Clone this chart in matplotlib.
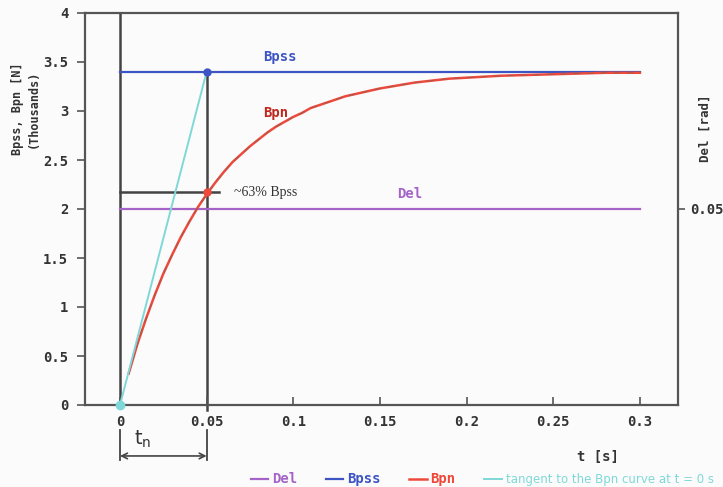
import matplotlib
matplotlib.use("Agg")
import matplotlib.pyplot as plt

# ---- data ----
t_bpn = [0.005, 0.01, 0.015, 0.02, 0.025, 0.03, 0.035, 0.04, 0.045, 0.05,
         0.055, 0.06, 0.065, 0.07, 0.075, 0.08, 0.085, 0.09, 0.095, 0.1,
         0.105, 0.11, 0.115, 0.12, 0.125, 0.13, 0.135, 0.14, 0.145, 0.15,
         0.16, 0.17, 0.18, 0.19, 0.2, 0.21, 0.22, 0.24, 0.26, 0.28, 0.3]
bpn = [0.32, 0.62, 0.88, 1.12, 1.34, 1.53, 1.71, 1.87, 2.02, 2.15,
       2.27, 2.38, 2.48, 2.56, 2.64, 2.71, 2.78, 2.84, 2.89, 2.94,
       2.98, 3.03, 3.06, 3.09, 3.12, 3.15, 3.17, 3.19, 3.21, 3.23,
       3.26, 3.29, 3.31, 3.33, 3.34, 3.35, 3.36, 3.37, 3.38, 3.39, 3.39]
t_const = [0.0, 0.3]
bpss = [3.4, 3.4]
del_val = [2.0, 2.0]
t_tan = [0.0, 0.05]
tangent = [0.0, 3.4]
tn = 0.05
bpn_63 = 2.17
x_ticks = [0, 0.05, 0.1, 0.15, 0.2, 0.25, 0.3]
x_labels = ["0", "0.05", "0.1", "0.15", "0.2", "0.25", "0.3"]
y_ticks = [0, 0.5, 1, 1.5, 2, 2.5, 3, 3.5, 4]
y_labels = ["0", "0.5", "1", "1.5", "2", "2.5", "3", "3.5", "4"]
r_ticks = [0.05]
r_labels = ["0.05"]

C_DEL = "#a563c8"
C_BPSS = "#3d55c4"
C_BPN = "#ee4a3c"
C_TAN = "#7fd8d8"
C_FRAME = "#555555"
MONO = "DejaVu Sans Mono"

fig = plt.figure(figsize=(7.23, 4.87), dpi=100)
fig.patch.set_facecolor("#fbfbfb")
ax = fig.add_axes([85/723, 82/487, 593/723, 392/487])
ax.set_facecolor("#fbfbfb")
ax.set_xlim(-0.0202, 0.322)
ax.set_ylim(0, 4)

l_del, = ax.plot(t_const, del_val, color=C_DEL, lw=1.6, label="Del")
l_bpss, = ax.plot(t_const, bpss, color=C_BPSS, lw=1.6, label="Bpss")
l_bpn, = ax.plot(t_bpn, bpn, color=C_BPN, lw=1.8, label="Bpn")
ax.plot(t_bpn, bpn, color="#7a6055", lw=0.8, ls=(0, (6, 6)), alpha=0.55)
l_tan, = ax.plot(t_tan, tangent, color=C_TAN, lw=1.4,
                 label="tangent to the Bpn curve at t = 0 s")

# construction lines
ax.plot([0, 0], [0, 4], color="#444444", lw=1.8, zorder=1)
ax.plot([tn, tn], [-0.05, 3.4], color="#444444", lw=1.8, zorder=1, clip_on=False)
ax.plot([0, 0.057], [bpn_63, bpn_63], color="#444444", lw=1.8, zorder=1)
ax.plot([0], [0], "o", color=C_TAN, ms=6, clip_on=False, zorder=5)
ax.plot([tn], [3.4], "o", color=C_BPSS, ms=5, zorder=5)
ax.plot([tn], [bpn_63], "o", color=C_BPN, ms=5, zorder=5)

# annotations
ax.text(0.092, 3.55, "Bpss", color=C_BPSS, fontsize=10, fontweight="bold",
        family=MONO, ha="center", va="center")
ax.text(0.09, 2.98, "Bpn", color="#c0281e", fontsize=10, fontweight="bold",
        family=MONO, ha="center", va="center")
ax.text(0.167, 2.15, "Del", color=C_DEL, fontsize=10, fontweight="bold",
        family=MONO, ha="center", va="center")
ax.text(0.066, bpn_63, "~63% Bpss", color="#333333", fontsize=10,
        family="Liberation Serif", ha="left", va="center")

# ticks
ax.set_xticks(x_ticks)
ax.set_xticklabels(x_labels)
ax.set_yticks(y_ticks)
ax.set_yticklabels(y_labels)
ax.tick_params(axis="x", direction="in", length=6, width=1.2, color=C_FRAME, pad=7)
ax.tick_params(axis="y", direction="out", length=6, width=1.2, color=C_FRAME, pad=6)
for lab in ax.get_xticklabels() + ax.get_yticklabels():
    lab.set_family(MONO)
    lab.set_fontweight("bold")
    lab.set_fontsize(10)
    lab.set_color("#333333")
for s in ax.spines.values():
    s.set_color(C_FRAME)
    s.set_linewidth(1.6)

ax.set_ylabel("Bpss, Bpn [N]\n(Thousands)", family=MONO, fontweight="bold",
              fontsize=8.5, color="#333333")
ax.yaxis.set_label_coords(-0.077, 0.755)

# right axis
ax2 = ax.twinx()
ax2.set_ylim(0, 0.1)
ax2.set_yticks(r_ticks)
ax2.set_yticklabels(r_labels)
ax2.tick_params(axis="y", direction="out", length=5, width=1.2, color=C_FRAME, pad=4)
for lab in ax2.get_yticklabels():
    lab.set_family(MONO)
    lab.set_fontweight("bold")
    lab.set_fontsize(10)
    lab.set_color("#333333")
for s in ax2.spines.values():
    s.set_visible(False)
fig.text(705/723, 1 - 128/487, "Del [rad]", rotation=90, family=MONO,
         fontweight="bold", fontsize=9, color="#333333", ha="center", va="center")

# t_n bracket
fig_tr = ax.get_xaxis_transform()
for xv in [0, tn]:
    ax.plot([xv, xv], [-0.065, -0.14], transform=fig_tr, color="#444444",
            lw=1.3, clip_on=False)
ax.annotate("", xy=(0, -0.13), xytext=(tn, -0.13), xycoords=fig_tr,
            textcoords=fig_tr,
            arrowprops=dict(arrowstyle="<->", color="#444444", lw=1.2,
                            shrinkA=0, shrinkB=0))
ax.text(0.013, -0.088, r"t$_\mathregular{n}$", transform=fig_tr, fontsize=14,
        family="DejaVu Sans", color="#333333", ha="center", va="center")

fig.text(598/723, 1 - 457/487, "t [s]", family=MONO, fontweight="bold",
         fontsize=10, color="#333333", ha="center", va="center")

# legend
leg = fig.legend(handles=[l_del, l_bpss, l_bpn, l_tan], loc="center",
                 bbox_to_anchor=(482/723, 1 - 479/487), ncol=4, frameon=False,
                 handlelength=1.4, handletextpad=0.3, columnspacing=2.3,
                 labelcolor="linecolor", fontsize=9)
for i, txt in enumerate(leg.get_texts()):
    if i < 3:
        txt.set_family(MONO)
        txt.set_fontweight("bold")
        txt.set_fontsize(10)
    else:
        txt.set_family("DejaVu Sans")
        txt.set_fontsize(8.5)

fig.savefig("out.png", dpi=100, facecolor=fig.get_facecolor())
